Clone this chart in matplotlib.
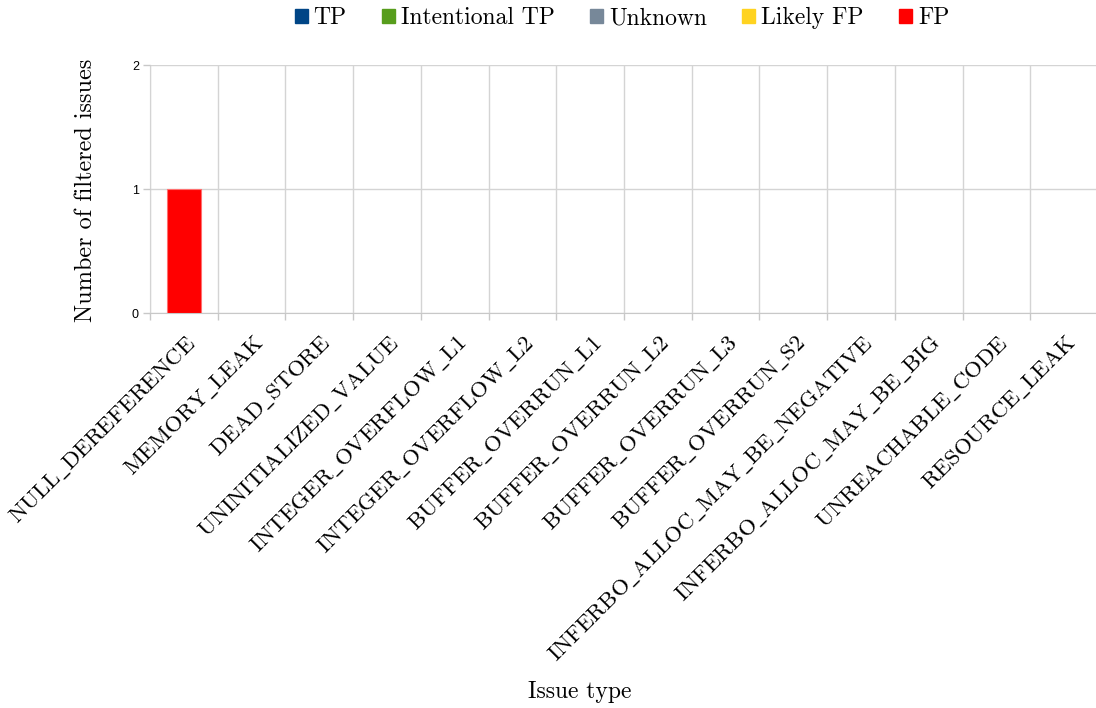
import matplotlib.pyplot as plt
from matplotlib.patches import Patch

plt.rcParams["mathtext.fontset"] = "cm"

CATEGORIES = [
    "NULL_DEREFERENCE", "MEMORY_LEAK", "DEAD_STORE", "UNINITIALIZED_VALUE",
    "INTEGER_OVERFLOW_L1", "INTEGER_OVERFLOW_L2", "BUFFER_OVERRUN_L1",
    "BUFFER_OVERRUN_L2", "BUFFER_OVERRUN_L3", "BUFFER_OVERRUN_S2",
    "INFERBO_ALLOC_MAY_BE_NEGATIVE", "INFERBO_ALLOC_MAY_BE_BIG",
    "UNREACHABLE_CODE", "RESOURCE_LEAK",
]
SERIES = ["TP", "Intentional TP", "Unknown", "Likely FP", "FP"]
COLORS = ["#004586", "#579d1c", "#778899", "#ffd320", "#ff0000"]

tp = [0] * 14
intentional_tp = [0] * 14
unknown = [0] * 14
likely_fp = [0] * 14
fp = [1, 0, 0, 0, 0, 0, 0, 0, 0, 0, 0, 0, 0, 0]

SERIF = ["cmr10", "DejaVu Serif"]


def tex(s):
    # underscores through mathtext, cmr10 has a dot accent in that slot
    return r"$\mathrm{" + s.replace("_", r"\_") + "}$"


fig = plt.figure(figsize=(10.96, 7.08), dpi=100)
ax = fig.add_axes([150 / 1096, 1 - 313 / 708, 948 / 1096, 248 / 708])

xs = list(range(len(CATEGORIES)))
bottom = [0] * len(CATEGORIES)
for name, vals, col in zip(SERIES, [tp, intentional_tp, unknown, likely_fp, fp], COLORS):
    lw = [0.8 if v > 0 else 0 for v in vals]
    ax.bar(xs, vals, width=0.5, bottom=bottom, color=col, edgecolor="#ff7070",
           linewidth=lw, zorder=3)
    bottom = [b + v for b, v in zip(bottom, vals)]

ax.set_xlim(-0.5, len(CATEGORIES) - 0.5)
ax.set_ylim(0, 2)
ax.set_yticks([0, 1, 2])
ax.set_yticklabels(["0", "1", "2"], fontsize=9, family="Liberation Sans")

# category boundaries as gridlines / ticks
bounds = [i - 0.5 for i in range(len(CATEGORIES) + 1)]
ax.set_xticks(bounds, minor=True)
ax.set_xticks(xs)
ax.set_xticklabels([tex(c) for c in CATEGORIES], rotation=45, ha="right", va="top",
                   rotation_mode="anchor", fontsize=16.5)
ax.tick_params(axis="x", which="major", length=0, pad=13)
ax.tick_params(axis="x", which="minor", length=5, color="#c8c8c8", width=1)
ax.tick_params(axis="y", length=5, color="#c8c8c8", width=1, pad=3)

ax.grid(True, axis="x", which="minor", color="#d4d4d4", linewidth=1, zorder=0)
ax.grid(True, axis="y", which="major", color="#d4d4d4", linewidth=1, zorder=0)
for s in ["top", "right"]:
    ax.spines[s].set_visible(False)
for s in ["left", "bottom"]:
    ax.spines[s].set_color("#c8c8c8")
    ax.spines[s].set_zorder(1)

fig.text(86 / 1096, 1 - 190 / 708, "Number of filtered issues", rotation=90, ha="center", va="center",
         fontsize=17.5, family=SERIF)
fig.text(580 / 1096, 1 - 692 / 708, "Issue type", ha="center", va="center", fontsize=17, family=SERIF)

handles = [Patch(facecolor=c, edgecolor=c) for c in COLORS]
fig.legend(handles, SERIES, loc="center", bbox_to_anchor=(622 / 1096, 1 - 18 / 708), ncol=5,
           frameon=False, prop={"family": SERIF, "size": 17}, handlelength=0.55, handleheight=0.55,
           handletextpad=0.25, columnspacing=1.5)

fig.savefig("out.png", dpi=100)
